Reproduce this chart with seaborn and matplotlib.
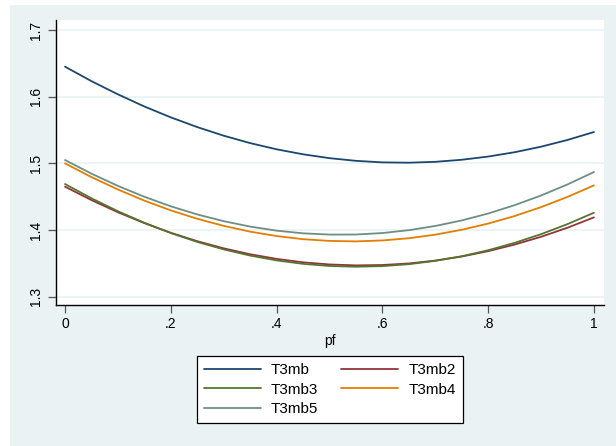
import matplotlib
matplotlib.use("Agg")
import matplotlib.pyplot as plt
import matplotlib.patches as mpatches
import numpy as np
import pandas as pd
import seaborn as sns

# predicted values over pf, in steps of 0.05
pf = [0.00, 0.05, 0.10, 0.15, 0.20, 0.25, 0.30, 0.35, 0.40, 0.45, 0.50,
      0.55, 0.60, 0.65, 0.70, 0.75, 0.80, 0.85, 0.90, 0.95, 1.00]
t3mb = [1.6450, 1.6233, 1.6035, 1.5853, 1.5690, 1.5544, 1.5415, 1.5304, 1.5211, 1.5136, 1.5078,
        1.5038, 1.5015, 1.5010, 1.5023, 1.5054, 1.5102, 1.5167, 1.5250, 1.5351, 1.5470]
t3mb2 = [1.4650, 1.4449, 1.4267, 1.4104, 1.3959, 1.3833, 1.3726, 1.3637, 1.3568, 1.3516, 1.3484,
         1.3470, 1.3476, 1.3499, 1.3542, 1.3603, 1.3683, 1.3782, 1.3899, 1.4035, 1.4190]
t3mb3 = [1.4690, 1.4476, 1.4282, 1.4109, 1.3955, 1.3822, 1.3710, 1.3617, 1.3545, 1.3493, 1.3461,
         1.3450, 1.3459, 1.3488, 1.3538, 1.3607, 1.3697, 1.3808, 1.3938, 1.4089, 1.4260]
t3mb4 = [1.5000, 1.4794, 1.4608, 1.4441, 1.4295, 1.4169, 1.4063, 1.3976, 1.3910, 1.3863, 1.3837,
         1.3830, 1.3844, 1.3877, 1.3931, 1.4004, 1.4097, 1.4210, 1.4344, 1.4497, 1.4670]
t3mb5 = [1.5050, 1.4846, 1.4662, 1.4499, 1.4356, 1.4234, 1.4133, 1.4052, 1.3991, 1.3951, 1.3932,
         1.3933, 1.3955, 1.3998, 1.4061, 1.4144, 1.4248, 1.4373, 1.4518, 1.4684, 1.4870]

series_names = ["T3mb", "T3mb2", "T3mb3", "T3mb4", "T3mb5"]
colors = ["#1a476f", "#90353b", "#55752f", "#e37e00", "#6e8e84"]
y_ticks = [1.3, 1.4, 1.5, 1.6, 1.7]
x_ticks = [0, 0.2, 0.4, 0.6, 0.8, 1.0]
x_ticklabels = ["0", ".2", ".4", ".6", ".8", "1"]

frames = []
for name, vals in zip(series_names, [t3mb, t3mb2, t3mb3, t3mb4, t3mb5]):
    frames.append(pd.DataFrame({"pf": pf, "value": vals, "series": name}))
df = pd.concat(frames, ignore_index=True)

sns.set_theme(style="white")
plt.rcParams["font.family"] = ["Liberation Sans", "DejaVu Sans"]
plt.rcParams["text.color"] = "black"
plt.rcParams["axes.labelcolor"] = "black"

bg = "#eaf2f3"
fig = plt.figure(figsize=(6.16, 4.46), dpi=100, facecolor="white")
# graph region panel
fig.patches.append(mpatches.Rectangle((10 / 616, 0), 606 / 616, 441 / 446,
                                      transform=fig.transFigure, facecolor=bg,
                                      edgecolor="none", zorder=-10))

ax = fig.add_axes([55.5 / 616, 1 - 305 / 446, (604.3 - 55.5) / 616, (305 - 20) / 446])
ax.set_facecolor("white")

sns.lineplot(data=df, x="pf", y="value", hue="series", hue_order=series_names,
             palette=colors, linewidth=1.3, ax=ax, legend=False, sort=False)

ax.set_xlim(-0.018, 1.0196)
ax.set_ylim(1.2876, 1.715)
ax.set_yticks(y_ticks)
ax.set_yticklabels([f"{v:.1f}" for v in y_ticks], rotation=90, va="center")
ax.set_xticks(x_ticks)
ax.set_xticklabels(x_ticklabels)
ax.tick_params(axis="both", which="major", length=6, width=0.9, color="#555555",
               labelsize=10, labelcolor="black", pad=3, direction="out",
               bottom=True, left=True)
ax.grid(axis="y", color=bg, linewidth=1.2)
ax.grid(axis="x", visible=False)
ax.set_axisbelow(True)
for side in ["top", "right"]:
    ax.spines[side].set_visible(False)
for side in ["left", "bottom"]:
    ax.spines[side].set_color("black")
    ax.spines[side].set_linewidth(1.0)

ax.set_xlabel("pf", fontsize=10, labelpad=2)
ax.set_ylabel("")

# legend entries laid out row by row in two columns
handles = {n: plt.Line2D([], [], color=c, linewidth=1.3) for n, c in zip(series_names, colors)}
order = ["T3mb", "T3mb3", "T3mb5", "T3mb2", "T3mb4"]
leg = fig.legend([handles[n] for n in order], order, ncol=2, loc="center",
                 bbox_to_anchor=(329.7 / 616, 1 - 389.5 / 446),
                 fontsize=11, frameon=True, fancybox=False, edgecolor="black",
                 facecolor="white", framealpha=1, handlelength=3.75,
                 handletextpad=0.65, columnspacing=1.5, labelspacing=0.37,
                 borderpad=0.45)
leg.get_frame().set_linewidth(0.9)

fig.savefig("out.png", dpi=100, facecolor="white")
